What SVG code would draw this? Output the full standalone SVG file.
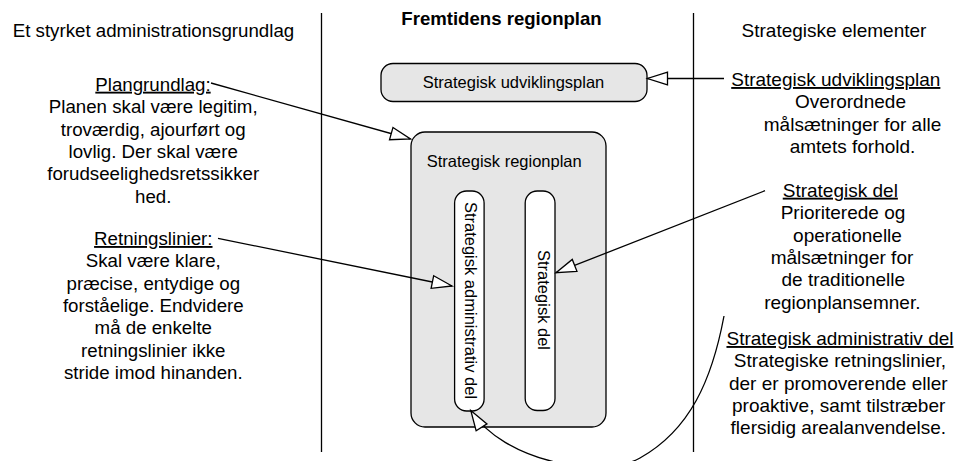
<svg xmlns="http://www.w3.org/2000/svg" width="956" height="461" viewBox="0 0 956 461">
  <defs>
    <style>
      text { font-family: "Liberation Sans", Arial, sans-serif; fill: #000; }
      .col { font-size: 18.7px; }
      .rcol { font-size: 19px; }
      .head { text-decoration: underline; }
      .title { font-size: 18.6px; font-weight: bold; }
      .lbl { font-size: 16.5px; }
      .box { fill: #e6e6e6; stroke: #000; stroke-width: 1.3; }
      .pill { fill: #fff; stroke: #000; stroke-width: 1.3; }
      .divider { stroke: #000; stroke-width: 1.3; fill: none; }
      .conn { stroke: #000; stroke-width: 1.3; fill: none; marker-end: url(#open); }
    </style>
    <marker id="open" markerUnits="userSpaceOnUse" markerWidth="26" markerHeight="18" refX="22" refY="8" orient="auto">
      <path d="M2,1.6 L22,8 L2,14.4 Z" fill="#fff" stroke="#000" stroke-width="1.3" stroke-linejoin="miter"/>
    </marker>
  </defs>

  <!-- column dividers -->
  <g id="dividers">
    <line class="divider" x1="321.5" y1="13" x2="321.5" y2="452"/>
    <line class="divider" x1="693.5" y1="13" x2="693.5" y2="452"/>
  </g>

  <!-- column headings -->
  <g id="headings">
    <text class="col" x="12.7" y="36.7">Et styrket administrationsgrundlag</text>
    <text class="title" x="501.5" y="25" text-anchor="middle">Fremtidens regionplan</text>
    <text class="rcol" x="834" y="36.5" text-anchor="middle">Strategiske elementer</text>
  </g>

  <!-- left notes -->
  <g id="note-plangrundlag" class="col" text-anchor="middle">
    <text class="head" x="153" y="90.7">Plangrundlag:</text>
    <text x="153.2" y="113.1">Planen skal være legitim,</text>
    <text x="153.2" y="135.5">troværdig, ajourført og</text>
    <text x="153.2" y="157.9">lovlig. Der skal være</text>
    <text x="153.2" y="180.3">forudseelighedsretssikker</text>
    <text x="153.2" y="202.7">hed.</text>
  </g>
  <g id="note-retningslinier" class="col" text-anchor="middle">
    <text class="head" x="153.3" y="245">Retningslinier:</text>
    <text x="153.3" y="267.4">Skal være klare,</text>
    <text x="153.3" y="289.8">præcise, entydige og</text>
    <text x="153.3" y="312">forståelige. Endvidere</text>
    <text x="153.3" y="334.3">må de enkelte</text>
    <text x="153.3" y="356.6">retningslinier ikke</text>
    <text x="153.3" y="378.8">stride imod hinanden.</text>
  </g>

  <!-- right notes -->
  <g id="note-udviklingsplan" class="rcol" text-anchor="middle">
    <text class="head" x="835.8" y="86">Strategisk udviklingsplan</text>
    <text x="850.5" y="108.4">Overordnede</text>
    <text x="852.5" y="130.8">målsætninger for alle</text>
    <text x="852.5" y="153.2">amtets forhold.</text>
  </g>
  <g id="note-strategisk-del" class="rcol" text-anchor="middle">
    <text class="head" x="840.3" y="196.7">Strategisk del</text>
    <text x="843" y="219.1">Prioriterede og</text>
    <text x="847.5" y="241.5">operationelle</text>
    <text x="842" y="263.9">målsætninger for</text>
    <text x="843.3" y="286.3">de traditionelle</text>
    <text x="842.3" y="308.6">regionplansemner.</text>
  </g>
  <g id="note-administrativ-del" class="rcol" text-anchor="middle">
    <text class="head" x="840" y="345">Strategisk administrativ del</text>
    <text x="840" y="367.2">Strategiske retningslinier,</text>
    <text x="838.3" y="389.5">der er promoverende eller</text>
    <text x="838.7" y="411.7">proaktive, samt tilstræber</text>
    <text x="838.3" y="433.9">flersidig arealanvendelse.</text>
  </g>

  <!-- plan boxes -->
  <g id="udviklingsplan">
    <rect class="box" x="381" y="63.5" width="266" height="38" rx="12"/>
    <text class="lbl" x="513.5" y="88" text-anchor="middle">Strategisk udviklingsplan</text>
  </g>
  <g id="regionplan">
    <rect class="box" x="411" y="132" width="195" height="295" rx="14"/>
    <text class="lbl" x="426.7" y="166.7">Strategisk regionplan</text>
  </g>
  <g id="administrativ-del">
    <rect class="pill" x="454.6" y="191" width="29.5" height="220" rx="12"/>
    <text class="lbl" transform="translate(464.5,300.5) rotate(90)" text-anchor="middle">Strategisk administrativ del</text>
  </g>
  <g id="strategisk-del">
    <rect class="pill" x="525.2" y="191" width="29.8" height="219.5" rx="12"/>
    <text class="lbl" transform="translate(537.8,300) rotate(90)" text-anchor="middle">Strategisk del</text>
  </g>

  <!-- connectors -->
  <g id="connectors">
    <line class="conn" x1="211" y1="83" x2="410.5" y2="139"/>
    <line class="conn" x1="218" y1="238.3" x2="452" y2="286"/>
    <line class="conn" x1="765" y1="190.7" x2="556" y2="272.7"/>
    <line class="conn" x1="724" y1="78.5" x2="647.5" y2="78.5"/>
    <path class="conn" d="M724,316 C712,380 690,430 640,458 C600,480 503,461 470.8,410.5"/>
  </g>
</svg>
